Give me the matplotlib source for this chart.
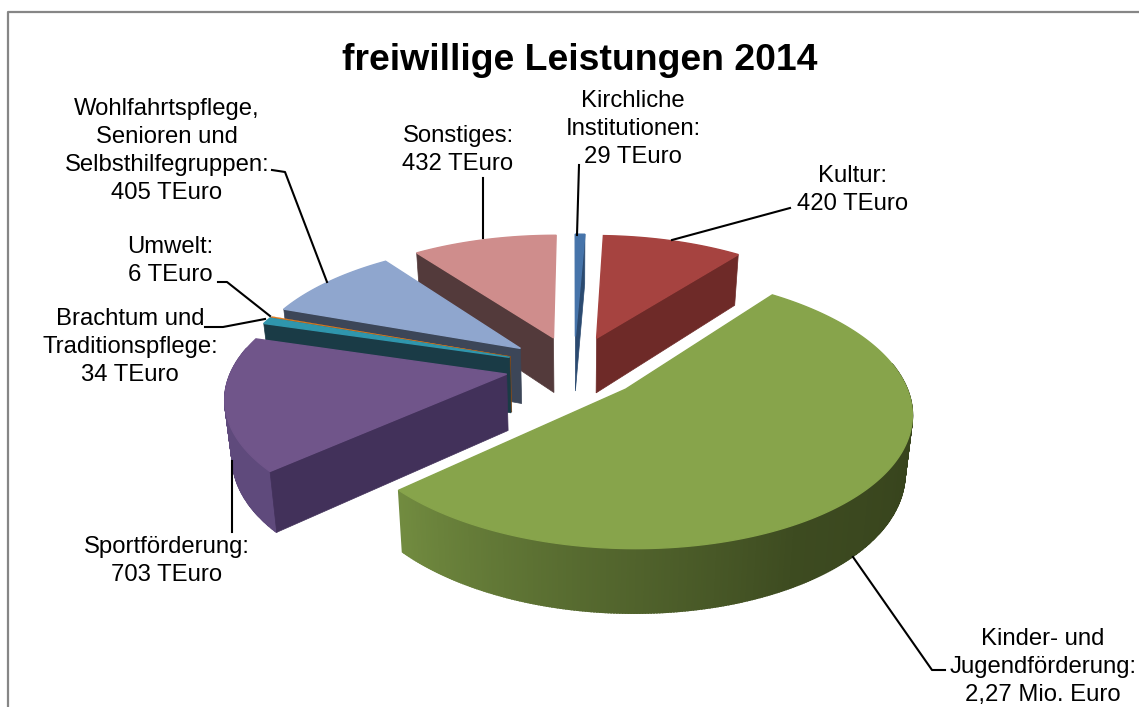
import numpy as np
import matplotlib
matplotlib.use('Agg')
import matplotlib.pyplot as plt
from matplotlib.colors import to_rgb

plt.rcParams['font.family'] = ['Liberation Sans', 'DejaVu Sans']

# values in TEuro, clockwise from the top
names = ['Kirchliche', 'Kultur', 'Kinder', 'Sport', 'Brauchtum', 'Umwelt', 'Wohlfahrt', 'Sonstiges']
values = [29, 420, 2270, 703, 34, 6, 405, 432]

top_colors = ['#4674AA', '#A64340', '#87A44B', '#70558A', '#2F96AD', '#E07B1E', '#8FA6CE', '#CF8D8C']
cut_colors = ['#2B4A70', '#6E2A28', '#36421C', '#42315A', '#1A3B46', '#8A4A12', '#3C4658', '#533A3B']
wall_colors = ['#2B4A70', '#6E2A28', '#36421C', '#5F4A7C', '#1F6070', '#8A4A12', '#4C5A74', '#7A5453']

title = 'freiwillige Leistungen 2014'
# text, x, y of the middle of the block
labels = [
    ('Wohlfahrtspflege,\nSenioren und\nSelbsthilfegruppen:\n405 TEuro', 167, 151),
    ('Sonstiges:\n432 TEuro', 458, 150),
    ('Kirchliche\nInstitutionen:\n29 TEuro', 633, 129),
    ('Kultur:\n420 TEuro', 853, 190),
    ('Umwelt:\n6 TEuro', 170, 261),
    ('Brachtum und\nTraditionspflege:\n34 TEuro', 130, 347),
    ('Sportförderung:\n703 TEuro', 167, 561),
    ('Kinder- und\nJugendförderung:\n2,27 Mio. Euro', 1043, 667),
]
leaders = [
    [(272, 170), (285, 172), (327, 282)],
    [(483, 178), (483, 238)],
    [(579, 165), (577, 235)],
    [(790, 208), (672, 240)],
    [(218, 282), (227, 282), (270, 316)],
    [(205, 327), (223, 327), (265, 319)],
    [(232, 461), (232, 532)],
    [(853, 557), (932, 670), (945, 670)],
]

# pie geometry in pixels
cx, cy = 574, 367
rx, ry = 274, 127
persp = 0.156
explode = 0.25
height = 56
shrink = 0.022   # the lower rim is a little smaller than the upper one


def project(u, v, drop=0):
    s = 1 + persp * v
    k = 1 - shrink * drop
    return cx + rx * u / s * k, cy - ry * v / s * k + drop * height / s


fig = plt.figure(figsize=(11.39, 7.07), dpi=100)
ax = fig.add_axes([0, 0, 1, 1])
ax.set_xlim(0, 1139)
ax.set_ylim(707, 0)
ax.axis('off')

# chart frame, open to the right and at the bottom
ax.plot([8, 8, 1139], [707, 12, 12], color='#868686', lw=1.6, zorder=1)

fracs = np.array(values) / sum(values)
edges = np.concatenate([[0], np.cumsum(fracs)]) * 360

order = [7, 6, 5, 4, 3, 0, 1, 2]   # back to front
z = 2
for i in order:
    a0, a1 = edges[i], edges[i + 1]
    mid = np.radians((a0 + a1) / 2)
    ue, ve = explode * np.sin(mid), explode * np.cos(mid)
    ang = np.radians(np.linspace(a0, a1, max(int((a1 - a0) * 2), 3)))
    u = ue + np.sin(ang)
    v = ve + np.cos(ang)
    thin = i == 5

    # outer wall, a strip of small quads so that it can be shaded
    for j in range(len(ang) - 1):
        if np.cos(ang[j]) > 0.2:
            continue
        pts = [project(u[j], v[j]), project(u[j + 1], v[j + 1]),
               project(u[j + 1], v[j + 1], 1), project(u[j], v[j], 1)]
        col = wall_colors[i]
        if i == 2:
            deg = np.degrees(ang[j])
            t = np.interp(deg, [100, 150, 190, 228], [0, 0.12, 0.55, 1])
            c0, c1 = np.array(to_rgb('#36421C')), np.array(to_rgb('#728C40'))
            col = c0 + (c1 - c0) * t
        ax.fill(*zip(*pts), color=col, lw=1.2, zorder=z)
    z += 1

    # cut faces, only those turned towards the viewer
    for k, visible in ((0, np.sin(ang[0]) < 0), (-1, np.sin(ang[-1]) > 0)):
        if not visible:
            continue
        pts = [project(ue, ve), project(u[k], v[k]), project(u[k], v[k], 1), project(ue, ve, 1)]
        ax.fill(*zip(*pts), color=cut_colors[i], lw=0.5, zorder=z)
        z += 1

    # top face
    xs, ys = project(u, v)
    ax_x = np.concatenate([[project(ue, ve)[0]], xs])
    ax_y = np.concatenate([[project(ue, ve)[1]], ys])
    ax.fill(ax_x, ax_y, color=top_colors[i], lw=0.2 if thin else 1.0, zorder=z)
    z += 1

for line in leaders:
    ax.plot(*zip(*line), color='black', lw=1.5, zorder=z, solid_joinstyle='round')

ax.text(580, 60, title, ha='center', va='center', fontsize=26.9, fontweight='bold', color='black', zorder=z)
for text, x, y in labels:
    ax.text(x, y, text, ha='center', va='center', fontsize=17.2, color='black',
            linespacing=1.34, zorder=z)

fig.savefig('out.png', dpi=100, facecolor='white')
